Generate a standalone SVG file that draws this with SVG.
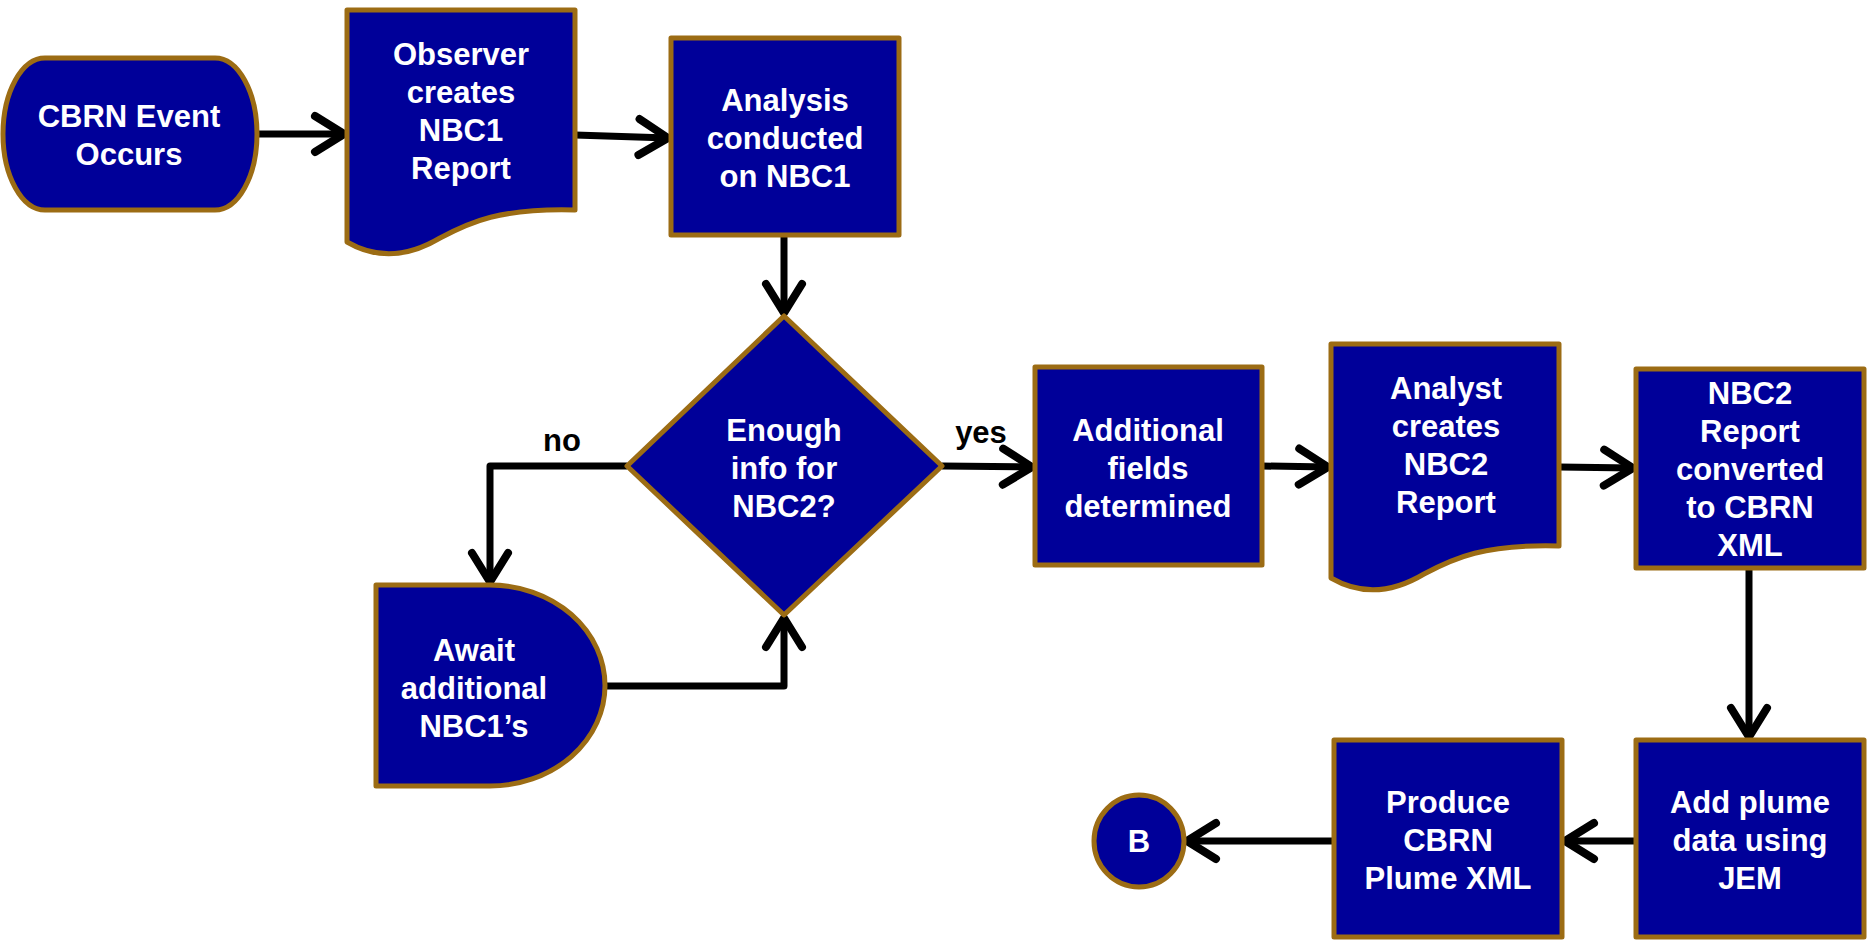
<svg xmlns="http://www.w3.org/2000/svg" width="1872" height="943" viewBox="0 0 1872 943">
  <style>
    .node { fill: #000099; stroke: #9C6C14; stroke-width: 5; stroke-linejoin: round; }
    .label { font-family: "Liberation Sans", Arial, sans-serif; font-weight: bold; font-size: 31px; fill: #ffffff; text-anchor: middle; }
    .edge-label { font-family: "Liberation Sans", Arial, sans-serif; font-weight: bold; font-size: 31px; fill: #000000; text-anchor: middle; }
    .edge { fill: none; stroke: #000000; stroke-width: 7; stroke-linejoin: round; marker-end: url(#chevron); }
  </style>
  <defs>
    <marker id="chevron" markerUnits="userSpaceOnUse" viewBox="-40 -25 45 50" markerWidth="45" markerHeight="50" refX="0" refY="0" orient="auto" overflow="visible">
      <path d="M-29,-18 L0,0 L-29,18" fill="none" stroke="#000000" stroke-width="8" stroke-linecap="round" stroke-linejoin="round"/>
    </marker>
  </defs>
  <rect width="1872" height="943" fill="#ffffff"/>

  <!-- connectors -->
  <g id="connectors">
    <path class="edge" d="M257,134 H344"/>
    <path class="edge" d="M575,135 L668,138"/>
    <path class="edge" d="M784,235 V313"/>
    <path class="edge" d="M942,466 L1032,467"/>
    <path class="edge" d="M1262,466 L1328,467"/>
    <path class="edge" d="M1559,467 L1633,468"/>
    <path class="edge" d="M1749,568 V737"/>
    <path class="edge" d="M1636,841 H1565"/>
    <path class="edge" d="M1334,841 H1187"/>
    <path class="edge" d="M627,466 H490 V582"/>
    <path class="edge" d="M605,686 H784 V618"/>
    <text class="edge-label" x="981" y="443">yes</text>
    <text class="edge-label" x="562" y="451">no</text>
  </g>

  <!-- start terminal -->
  <g id="cbrn-event">
    <path class="node" d="M45,58 H215 A42,76 0 0 1 215,210 H45 A42,76 0 0 1 45,58 Z"/>
    <text class="label" x="129" y="127">CBRN Event</text>
    <text class="label" x="129" y="165">Occurs</text>
  </g>

  <!-- observer report (document) -->
  <g id="observer-report">
    <path class="node" d="M347,10 H575 V210 C500,208 470,222 440,238 C410,256 378,260 347,242 Z"/>
    <text class="label" x="461" y="65">Observer</text>
    <text class="label" x="461" y="103">creates</text>
    <text class="label" x="461" y="141">NBC1</text>
    <text class="label" x="461" y="179">Report</text>
  </g>

  <g id="analysis">
    <rect class="node" x="671" y="38" width="228" height="197"/>
    <text class="label" x="785" y="111">Analysis</text>
    <text class="label" x="785" y="149">conducted</text>
    <text class="label" x="785" y="187">on NBC1</text>
  </g>

  <!-- decision -->
  <g id="enough-info">
    <path class="node" d="M784,316 L942,466 L784,615 L627,466 Z"/>
    <text class="label" x="784" y="441">Enough</text>
    <text class="label" x="784" y="479">info for</text>
    <text class="label" x="784" y="517">NBC2?</text>
  </g>

  <!-- delay -->
  <g id="await-nbc1">
    <path class="node" d="M376,585 H490 A115,100.5 0 0 1 490,786 H376 Z"/>
    <text class="label" x="474" y="661">Await</text>
    <text class="label" x="474" y="699">additional</text>
    <text class="label" x="474" y="737">NBC1’s</text>
  </g>

  <g id="additional-fields">
    <rect class="node" x="1035" y="367" width="227" height="198"/>
    <text class="label" x="1148" y="441">Additional</text>
    <text class="label" x="1148" y="479">fields</text>
    <text class="label" x="1148" y="517">determined</text>
  </g>

  <!-- analyst report (document) -->
  <g id="analyst-report">
    <path class="node" d="M1331,344 H1559 V546 C1484,544 1454,558 1424,574 C1394,592 1362,596 1331,578 Z"/>
    <text class="label" x="1446" y="399">Analyst</text>
    <text class="label" x="1446" y="437">creates</text>
    <text class="label" x="1446" y="475">NBC2</text>
    <text class="label" x="1446" y="513">Report</text>
  </g>

  <g id="convert-xml">
    <rect class="node" x="1636" y="369" width="228" height="199"/>
    <text class="label" x="1750" y="404">NBC2</text>
    <text class="label" x="1750" y="442">Report</text>
    <text class="label" x="1750" y="480">converted</text>
    <text class="label" x="1750" y="518">to CBRN</text>
    <text class="label" x="1750" y="556">XML</text>
  </g>

  <g id="add-plume">
    <rect class="node" x="1636" y="740" width="228" height="197"/>
    <text class="label" x="1750" y="813">Add plume</text>
    <text class="label" x="1750" y="851">data using</text>
    <text class="label" x="1750" y="889">JEM</text>
  </g>

  <g id="produce-plume">
    <rect class="node" x="1334" y="740" width="228" height="197"/>
    <text class="label" x="1448" y="813">Produce</text>
    <text class="label" x="1448" y="851">CBRN</text>
    <text class="label" x="1448" y="889">Plume XML</text>
  </g>

  <!-- off-page connector -->
  <g id="connector-b">
    <ellipse class="node" cx="1139" cy="841" rx="45" ry="46"/>
    <text class="label" x="1139" y="852">B</text>
  </g>
</svg>
